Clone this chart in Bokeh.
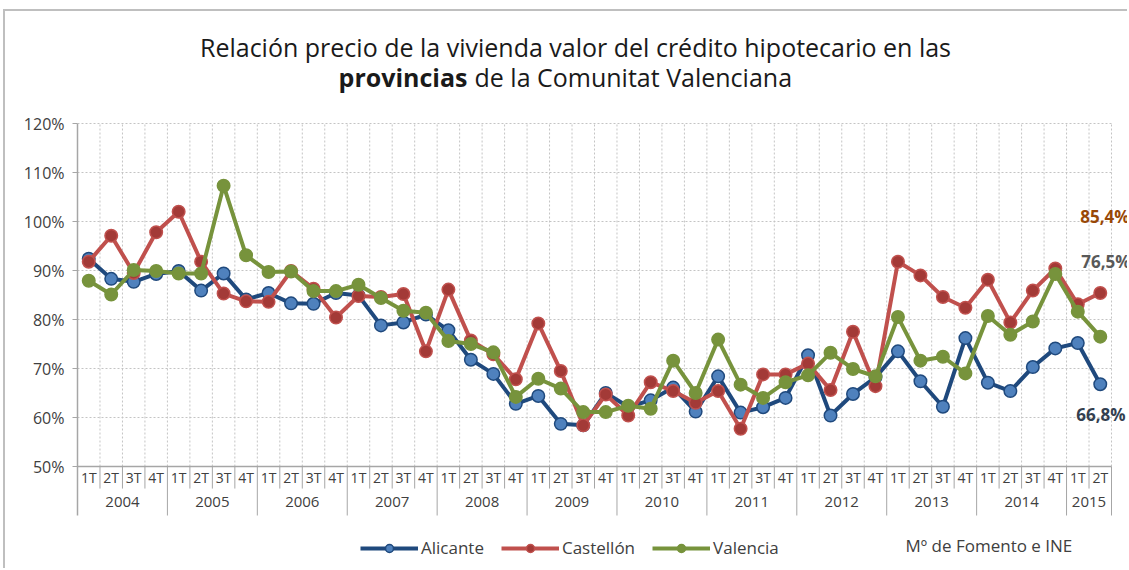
from bokeh.plotting import figure
from bokeh.models import Range1d, FixedTicker, PrintfTickFormatter, Label, Legend, LegendItem
from bokeh.embed import file_html
from bokeh.resources import INLINE
from bokeh.core.properties import value

# ---------------- data ----------------
years = ["2004", "2005", "2006", "2007", "2008", "2009", "2010",
         "2011", "2012", "2013", "2014", "2015"]
quarters_per_year = [4, 4, 4, 4, 4, 4, 4, 4, 4, 4, 4, 2]
quarter_names = ["1T", "2T", "3T", "4T"]

alicante = [92.4, 88.3, 87.7, 89.3, 89.9, 85.9, 89.4, 84.1, 85.4, 83.3, 83.2, 85.4,
            84.9, 78.8, 79.4, 81.0, 77.8, 71.8, 68.9, 62.8, 64.4, 58.7, 58.4, 65.0,
            62.2, 63.5, 66.1, 61.2, 68.4, 61.0, 62.1, 64.0, 72.7, 60.4, 64.8, 68.2,
            73.5, 67.4, 62.2, 76.2, 67.1, 65.4, 70.3, 74.1, 75.2, 66.8]
castellon = [91.8, 97.1, 89.5, 97.8, 102.0, 91.8, 85.3, 83.7, 83.6, 89.9, 86.3, 80.4,
             84.8, 84.6, 85.2, 73.5, 86.1, 75.7, 72.9, 67.8, 79.2, 69.5, 58.4, 64.7,
             60.4, 67.2, 65.4, 63.0, 65.4, 57.7, 68.8, 68.8, 71.0, 65.6, 77.5, 66.4,
             91.8, 89.0, 84.6, 82.4, 88.1, 79.4, 85.9, 90.4, 83.1, 85.4]
valencia = [87.9, 85.1, 90.1, 89.9, 89.4, 89.4, 107.3, 93.1, 89.7, 89.8, 85.8, 85.8,
            87.1, 84.4, 81.8, 81.4, 75.6, 75.0, 73.3, 64.2, 67.9, 65.9, 61.1, 61.1,
            62.4, 61.8, 71.6, 65.0, 75.9, 66.7, 64.0, 67.2, 68.6, 73.2, 69.9, 68.4,
            80.5, 71.6, 72.4, 69.0, 80.7, 76.9, 79.6, 89.3, 81.6, 76.5]

y_ticks = [50, 60, 70, 80, 90, 100, 110, 120]
series_names = ["Alicante", "Castellón", "Valencia"]
source_text = "Mº  de Fomento e INE"
title_line1 = "Relación precio de la vivienda valor del crédito hipotecario en las"
title_bold = "provincias"
title_rest = "de la Comunitat Valenciana"

# ---------------- layout geometry (pixels) ----------------
MARGIN_L, MARGIN_T, BORDER = 3, 9, 2
CANVAS_W = 1129 - MARGIN_L - BORDER
CANVAS_H = 570 - MARGIN_T - BORDER
ORIGIN_X, ORIGIN_Y = MARGIN_L + BORDER, MARGIN_T + BORDER   # canvas origin in window
AX_LEFT, AX_RIGHT = 77, 1111          # category strip left/right (window px)
Y50, Y120 = 466, 123                   # window px of 50% and 120%

n = len(alicante)
px_x = (AX_RIGHT - AX_LEFT) / n
px_y = (Y50 - Y120) / (y_ticks[-1] - y_ticks[0])
x_start = -0.5
x_end = -0.5 + (ORIGIN_X + CANVAS_W - AX_LEFT) / px_x
y_top = y_ticks[0] + (Y50 - ORIGIN_Y) / px_y
y_bottom = y_ticks[0] - (ORIGIN_Y + CANVAS_H - Y50) / px_y

xs = list(range(n))
q_labels = []
for cnt in quarters_per_year:
    q_labels += quarter_names[:cnt]
year_starts = []
s = 0
for cnt in quarters_per_year:
    year_starts.append(s)
    s += cnt
year_centers = [st + cnt / 2 - 0.5 for st, cnt in zip(year_starts, quarters_per_year)]
year_bounds = [st + cnt - 0.5 for st, cnt in zip(year_starts, quarters_per_year)]
all_bounds = [i + 0.5 for i in range(n)]
quarter_bounds = [b for b in all_bounds if b not in year_bounds]

FONT = "Open Sans"
GRID = "#c4c4c4"
AXIS = "#a6a6a6"
TXT = "#404040"

p = figure(width=CANVAS_W, height=CANVAS_H,
           x_range=Range1d(x_start, x_end), y_range=Range1d(y_bottom, y_top),
           output_backend="svg", toolbar_location=None, x_axis_location=None,
           min_border_left=AX_LEFT - ORIGIN_X, min_border_right=0, min_border_top=0,
           min_border_bottom=0)
p.outline_line_color = None
p.background_fill_color = "white"
p.border_fill_color = "white"
p.styles = {"margin-left": "%dpx" % MARGIN_L, "margin-top": "%dpx" % MARGIN_T,
            "border-top": "%dpx solid #bfbfbf" % BORDER,
            "border-left": "%dpx solid #bfbfbf" % BORDER}

# y axis
p.yaxis.bounds = (40, y_ticks[-1])
p.yaxis.ticker = FixedTicker(ticks=y_ticks)
p.yaxis.formatter = PrintfTickFormatter(format="%d%%")
p.yaxis.axis_line_color = AXIS
p.yaxis.axis_line_width = 1.5
p.yaxis.major_tick_line_color = AXIS
p.yaxis.major_tick_out = 5
p.yaxis.major_tick_in = 0
p.yaxis.minor_tick_line_color = None
p.yaxis.major_label_text_font = FONT
p.yaxis.major_label_text_font_size = "16px"
p.yaxis.major_label_text_color = TXT
p.yaxis.major_label_standoff = 8

# grids
p.xgrid.visible = False
p.ygrid.visible = False
hg = y_ticks[1:]
p.segment(x0=[-0.5] * len(hg), y0=hg, x1=[n - 0.5] * len(hg), y1=hg,
          line_color=GRID, line_dash="2 2", line_width=1)
p.segment(x0=all_bounds, y0=[y_ticks[0]] * n, x1=all_bounds, y1=[y_ticks[-1]] * n,
          line_color=GRID, line_dash="2 2", line_width=1)

# category axis strip
p.segment(x0=[-0.5], y0=[50], x1=[n - 0.5], y1=[50], line_color=AXIS, line_width=1.5)
p.segment(x0=quarter_bounds, y0=[50] * len(quarter_bounds), x1=quarter_bounds,
          y1=[45.5] * len(quarter_bounds), line_color=AXIS, line_width=1)
p.segment(x0=year_bounds, y0=[50] * len(year_bounds), x1=year_bounds,
          y1=[40] * len(year_bounds), line_color=AXIS, line_width=1)
p.text(x=xs, y=[47.75] * n, text=q_labels, text_align="center", text_baseline="middle",
       text_font=value(FONT), text_font_size="14px", text_color=TXT)
p.text(x=year_centers, y=[42.7] * len(years), text=years, text_align="center",
       text_baseline="middle", text_font=value(FONT), text_font_size="15px", text_color=TXT)

# series
styles = [
    (alicante, "#1F497D", "#4F81BD", "#1F497D"),
    (castellon, "#C0504D", "#A33A37", "#C0504D"),
    (valencia, "#77933C", "#77933C", "#77933C"),
]
items = []
for name, (vals, lc, mf, ml) in zip(series_names, styles):
    r1 = p.line(xs, vals, line_color=lc, line_width=4)
    r2 = p.scatter(xs, vals, size=12.5, fill_color=mf, line_color=ml, line_width=1.5)
    items.append(LegendItem(label=name, renderers=[r1, r2]))

frame_bottom = ORIGIN_Y + CANVAS_H
legend = Legend(items=items, orientation="horizontal",
                location=(360 - AX_LEFT, frame_bottom - 545 - 14),
                border_line_color=None, background_fill_alpha=0, glyph_width=58,
                glyph_height=20, label_text_font=FONT, label_text_font_size="17px",
                label_text_color=TXT, spacing=17, padding=4, margin=0, label_standoff=3)
p.add_layout(legend, "center")

p.add_layout(Label(x=905 - AX_LEFT, y=frame_bottom - 545, x_units="screen", y_units="screen",
                   text=source_text, text_baseline="middle", text_font=FONT,
                   text_font_size="17px", text_color=TXT))

# title
p.add_layout(Label(x=575 - AX_LEFT, y=frame_bottom - 46, x_units="screen", y_units="screen",
                   text=title_line1, text_align="center", text_baseline="middle",
                   text_font=FONT, text_font_size="25px", text_color="#1a1a1a"))
p.add_layout(Label(x=467 - AX_LEFT, y=frame_bottom - 76, x_units="screen", y_units="screen",
                   text=title_bold, text_align="right", text_baseline="middle",
                   text_font=FONT, text_font_style="bold", text_font_size="25px",
                   text_color="#1a1a1a"))
p.add_layout(Label(x=474 - AX_LEFT, y=frame_bottom - 76, x_units="screen", y_units="screen",
                   text=title_rest, text_align="left", text_baseline="middle",
                   text_font=FONT, text_font_size="25px", text_color="#1a1a1a"))

# end value labels
def fmt(v):
    return ("%.1f" % v).replace(".", ",") + "%"

end_labels = [
    (castellon[-1], "#984807", -20, 77),
    (valencia[-1], "#595959", -19, 75),
    (alicante[-1], "#333F50", -24, -30),
]
for v, col, dx, dy in end_labels:
    p.add_layout(Label(x=n - 1, y=v, x_offset=dx, y_offset=dy, text=fmt(v),
                       text_baseline="middle", text_font=FONT, text_font_style="bold",
                       text_font_size="17px", text_color=col))

open("out.html", "w").write(file_html(p, INLINE))
